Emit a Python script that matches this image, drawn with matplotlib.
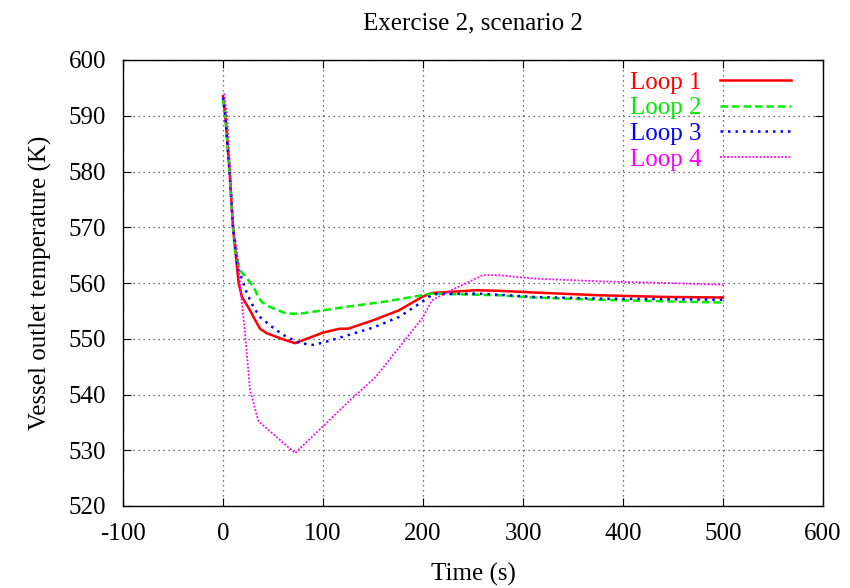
import matplotlib
matplotlib.use("Agg")
import matplotlib.pyplot as plt

# vessel outlet temperature per loop (time in s, temperature in K)
t_loop1 = [0, 2.3, 6.6, 10, 15.6, 18.9, 27, 30.5, 37, 43.7, 60, 72, 100, 116.6, 125, 150, 176, 199,
           209, 253, 276, 310, 376, 443, 500]
T_loop1 = [593.5, 590, 580, 570, 560, 557.5, 555.1, 553.9, 551.8, 551.0, 549.9, 549.2, 551.1, 551.8,
           551.8, 553.3, 555.1, 557.5, 558.2, 558.7, 558.6, 558.3, 557.8, 557.5, 557.4]

t_loop2 = [0, 2.3, 6.6, 10, 12, 17, 25.5, 30.5, 35.4, 38.7, 47, 63.6, 77, 100, 126, 160, 199, 209,
           276, 310, 376, 443, 500]
T_loop2 = [593.0, 590, 580, 570, 565.8, 562.3, 560.5, 559.3, 557.5, 556.6, 555.7, 554.5, 554.5,
           555.1, 555.8, 556.6, 557.8, 558.1, 557.8, 557.4, 557.0, 556.7, 556.5]

t_loop3 = [0, 2.3, 6.6, 10, 15, 17, 24, 30.5, 37, 47, 60, 77, 90, 100, 126, 150, 176, 199, 210,
           253, 276, 310, 376, 443, 500]
T_loop3 = [593.3, 590, 580, 570, 562.5, 561.7, 558.1, 555.7, 553.9, 552.4, 550.7, 549.2, 548.9,
           549.3, 550.7, 552.0, 553.9, 556.6, 558.0, 558.1, 557.9, 557.5, 557.2, 557.1, 557.0]

t_loop4 = [1.3, 4, 7.3, 10, 14, 17, 22, 27, 35.4, 47, 72, 100, 126, 153, 179.5, 199, 209, 227, 260,
           276, 310, 376, 443, 500]
T_loop4 = [594.0, 590, 580, 570, 565.8, 559.9, 551.0, 540.8, 535.2, 533.4, 529.5, 534.3, 538.8,
           543.2, 549.2, 553.6, 556.9, 558.6, 561.4, 561.4, 560.8, 560.3, 560.0, 559.7]

labels = ["Loop 1", "Loop 2", "Loop 3", "Loop 4"]
x_ticks = [-100, 0, 100, 200, 300, 400, 500, 600]
y_ticks = [520, 530, 540, 550, 560, 570, 580, 590, 600]

plt.rcParams["font.family"] = ["Liberation Serif", "DejaVu Serif"]
plt.rcParams["axes.unicode_minus"] = False

fig = plt.figure(figsize=(8.5, 5.88), dpi=100)
ax = fig.add_axes([123 / 850, 1 - 506 / 588, 700 / 850, 446 / 588])

ax.plot(t_loop1, T_loop1, color="#ff0000", lw=1.8, ls="-", label=labels[0])
ax.plot(t_loop2, T_loop2, color="#00ee00", lw=1.8, ls=(0, (3, 1.6)), label=labels[1])
ax.plot(t_loop3, T_loop3, color="#0000ff", lw=1.8, ls=(0, (1, 2)), label=labels[2])
ax.plot(t_loop4, T_loop4, color="#ff00ff", lw=1.3, ls=(0, (1, 1)), label=labels[3])

ax.set_xlim(-100, 600)
ax.set_ylim(520, 600)
ax.set_xticks(x_ticks)
ax.set_yticks(y_ticks)
ax.tick_params(direction="in", top=True, right=True, length=6, labelsize=18)
ax.tick_params(axis="x", pad=12)
ax.tick_params(axis="y", pad=12)
ax.grid(True, color="#444444", ls=(0, (1, 3)), lw=0.9)
for s in ax.spines.values():
    s.set_linewidth(1.0)

ax.set_xlabel("Time (s)", fontsize=18, labelpad=13)
ax.set_ylabel("Vessel outlet temperature (K)", fontsize=18, labelpad=12)
ax.set_title("Exercise 2, scenario 2", fontsize=18, pad=22)

leg = ax.legend(loc="upper right", bbox_to_anchor=(1 - 22 / 700, 1 - 1 / 446), frameon=False,
                markerfirst=False, labelcolor="linecolor", fontsize=18, handlelength=2.85,
                handletextpad=0.75, labelspacing=0.13, borderaxespad=0.0)

fig.savefig("out.png", dpi=100)
